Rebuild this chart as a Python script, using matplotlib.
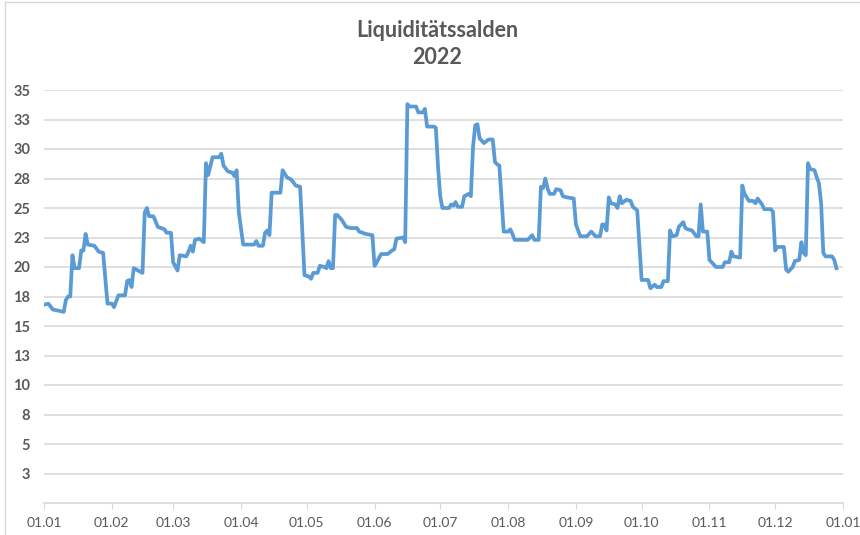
import numpy as np
import matplotlib
matplotlib.use("Agg")
import matplotlib.pyplot as plt
import matplotlib.dates as mdates
from matplotlib.lines import Line2D

# Tage seit 01.01.2022 und Saldo
tage = [0, 2, 4, 9, 10, 11, 12, 13, 14, 16, 17, 18, 19, 20, 23, 25, 27, 29, 31, 32,
        34, 37, 38, 39, 40, 41, 43, 45, 46, 47, 48, 50, 52, 55, 56, 58, 59, 61, 62, 65,
        66, 67, 68, 69, 71, 73, 74, 75, 77, 80, 81, 82, 84, 86, 87, 88, 89, 91, 96, 97,
        98, 100, 101, 102, 103, 104, 108, 109, 111, 113, 115, 117, 119, 121, 122, 123, 125, 126, 128, 129,
        130, 131, 132, 133, 134, 136, 138, 140, 143, 144, 147, 150, 151, 152, 154, 157, 159, 160, 161, 164,
        165, 166, 167, 170, 171, 173, 174, 175, 178, 179, 180, 181, 182, 185, 186, 187, 188, 189, 191, 192,
        194, 195, 196, 197, 198, 199, 201, 203, 205, 206, 207, 208, 210, 212, 213, 214, 215, 217, 221, 223,
        224, 226, 227, 228, 229, 230, 231, 233, 234, 236, 237, 239, 242, 243, 245, 248, 250, 252, 254, 255,
        256, 257, 258, 259, 261, 262, 263, 264, 266, 268, 269, 271, 273, 276, 277, 279, 280, 282, 283, 285,
        286, 287, 289, 290, 292, 293, 294, 296, 298, 299, 300, 301, 303, 304, 305, 307, 308, 310, 311, 313,
        314, 315, 318, 319, 320, 322, 324, 325, 326, 328, 329, 332, 333, 334, 335, 338, 339, 340, 342, 343,
        345, 346, 347, 348, 349, 350, 352, 353, 354, 355, 356, 357, 360, 361, 362]
saldo = [16.8, 16.9, 16.4, 16.2, 17.2, 17.5, 17.5, 21.0, 19.9, 19.9, 21.4, 21.4, 22.8, 21.9, 21.8, 21.3, 21.2, 16.9, 16.9, 16.6,
         17.6, 17.6, 18.8, 18.9, 18.3, 19.9, 19.7, 19.5, 24.6, 25.0, 24.3, 24.3, 23.4, 23.2, 22.9, 22.9, 20.4, 19.7, 21.0, 20.9,
         21.3, 21.8, 21.3, 22.3, 22.4, 22.1, 28.8, 27.8, 29.3, 29.3, 29.6, 28.6, 28.1, 28.0, 27.7, 28.2, 24.6, 21.9, 21.9, 22.2,
         21.8, 21.8, 22.9, 23.1, 22.7, 26.3, 26.3, 28.2, 27.6, 27.4, 26.9, 26.8, 19.3, 19.2, 19.0, 19.5, 19.5, 20.1, 20.0, 19.9,
         20.5, 19.9, 19.9, 24.4, 24.4, 24.0, 23.4, 23.3, 23.3, 23.0, 22.8, 22.7, 20.1, 20.4, 21.1, 21.1, 21.4, 21.5, 22.4, 22.5,
         22.1, 33.8, 33.6, 33.6, 33.1, 33.1, 33.4, 31.9, 31.9, 31.8, 28.5, 26.0, 25.0, 25.0, 25.3, 25.2, 25.5, 25.1, 25.1, 26.0,
         26.2, 26.0, 30.2, 32.0, 32.1, 30.9, 30.5, 30.8, 30.8, 28.9, 28.7, 28.6, 23.0, 23.0, 23.2, 22.8, 22.3, 22.3, 22.3, 22.7,
         22.3, 22.3, 26.8, 26.7, 27.5, 26.7, 26.2, 26.2, 26.6, 26.5, 26.0, 25.9, 25.8, 23.6, 22.6, 22.6, 23.0, 22.6, 22.6, 23.6,
         23.6, 23.1, 25.9, 25.4, 25.3, 25.0, 26.0, 25.4, 25.7, 25.6, 25.1, 24.8, 18.9, 18.9, 18.2, 18.5, 18.3, 18.3, 18.8, 18.8,
         23.1, 22.6, 22.7, 23.4, 23.8, 23.3, 23.2, 23.1, 22.6, 22.6, 25.3, 23.0, 23.0, 20.6, 20.4, 20.0, 20.0, 20.0, 20.4, 20.4,
         21.3, 20.9, 20.8, 26.9, 26.2, 25.6, 25.6, 25.4, 25.8, 25.3, 24.9, 24.9, 24.7, 21.4, 21.7, 21.7, 19.8, 19.6, 20.0, 20.5,
         20.6, 22.1, 21.2, 21.0, 28.8, 28.3, 28.2, 27.6, 27.1, 25.4, 21.2, 20.9, 20.9, 20.6, 19.9]

y_ticks = np.arange(2.5, 35.1, 2.5)
titel = "Liquiditätssalden\n2022"

plt.rcParams["font.family"] = ["Lato", "DejaVu Sans"]
grau = "#595959"

datum = np.datetime64("2022-01-01") + np.array(tage).astype("timedelta64[D]")

fig = plt.figure(figsize=(8.6, 5.35), dpi=100)
ax = fig.add_axes([44 / 860, 1 - 503 / 535, (843 - 44) / 860, (503 - 90) / 535])

ax.plot(datum, saldo, color="#5b9bd5", lw=2.7, solid_joinstyle="round", zorder=3)

ax.set_ylim(0, 35)
ax.set_xlim(np.datetime64("2022-01-01"), np.datetime64("2023-01-01"))
ax.set_yticks(y_ticks)
# Excel rundet 2,5 -> 3 usw.
ax.set_yticklabels([str(int(v + 0.5)) for v in y_ticks])
ax.yaxis.grid(True, color="#d9d9d9", lw=1.2)
ax.set_axisbelow(True)

ax.xaxis.set_major_locator(mdates.MonthLocator(bymonthday=1))
ax.xaxis.set_major_formatter(mdates.DateFormatter("%d.%m"))

for s in ["left", "right", "top"]:
    ax.spines[s].set_visible(False)
ax.spines["bottom"].set_color("#d9d9d9")
ax.spines["bottom"].set_linewidth(1.2)

ax.tick_params(axis="y", length=0, pad=10, labelsize=10.5, labelcolor=grau)
ax.tick_params(axis="x", length=4, color="#d9d9d9", pad=6, labelsize=10, labelcolor=grau)
for lbl in ax.get_yticklabels():
    lbl.set_fontweight("bold")

fig.text(0.508, 0.917, titel, ha="center", va="center", fontsize=15.5,
         fontweight="bold", color=grau, linespacing=1.35)

# Rahmen des Diagrammbereichs
fig.add_artist(Line2D([5 / 860, 5 / 860], [0, 1 - 2 / 535], color="#d9d9d9", lw=1))
fig.add_artist(Line2D([5 / 860, 1], [1 - 2 / 535, 1 - 2 / 535], color="#d9d9d9", lw=1))

fig.savefig("out.png", dpi=100)
